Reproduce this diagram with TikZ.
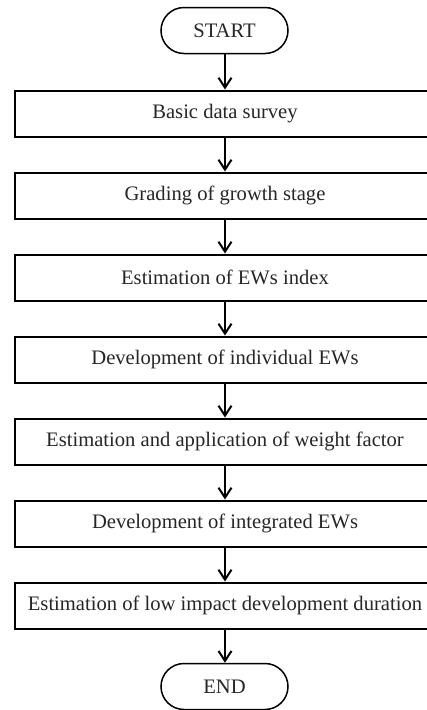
\documentclass[tikz,border=0pt]{standalone}
\usepackage{fontspec}
\setmainfont{Liberation Serif}
\usetikzlibrary{arrows.meta}
\begin{document}
\begin{tikzpicture}[x=1pt,y=1pt,
  every node/.style={font=\fontsize{20.6}{23}\selectfont, inner sep=0pt, text=black!85},
  stepbox/.style={draw=black, line width=2pt, minimum width=420pt, minimum height=46pt},
  terminal/.style={draw=black, line width=1.5pt, rounded corners=23pt, minimum width=127pt, minimum height=46pt},
  flow/.style={line width=2pt, -{Straight Barb[length=10pt,width=13pt,line width=2pt]}}]
\clip (0,0) rectangle (427,-710);
\fill[white] (0,0) rectangle (427,-710);
\node[terminal] (start) at (224.5,-30.5) {START};
\node[stepbox] (b1) at (225,-113.5) {Basic data survey};
\node[stepbox] (b2) at (225,-195.5) {Grading of growth stage};
\node[stepbox] (b3) at (225,-277.5) {Estimation of EWs index};
\node[stepbox] (b4) at (225,-359.5) {Development of individual EWs};
\node[stepbox] (b5) at (225,-441.5) {Estimation and application of weight factor};
\node[stepbox] (b6) at (225,-523.5) {Development of integrated EWs};
\node[stepbox] (b7) at (225,-605.5) {Estimation of low impact development duration};
\node[terminal] (end) at (224.5,-686.5) {END};
\draw[flow] (start.south -| b1.north) -- (b1.north);
\draw[flow] (b1) -- (b2);
\draw[flow] (b2) -- (b3);
\draw[flow] (b3) -- (b4);
\draw[flow] (b4) -- (b5);
\draw[flow] (b5) -- (b6);
\draw[flow] (b6) -- (b7);
\draw[flow] (b7.south) -- (end.north -| b7.south);
\end{tikzpicture}
\end{document}
